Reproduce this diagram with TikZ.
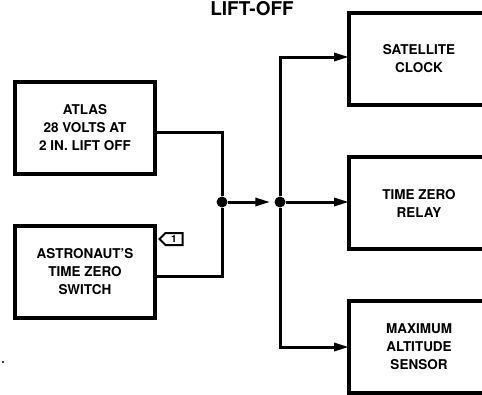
\documentclass[tikz,border=0pt]{standalone}
\usepackage{fontspec}
\setmainfont{TeX Gyre Heros}
\usetikzlibrary{arrows.meta, positioning, shapes.symbols}

\begin{document}
\begin{tikzpicture}[x=1pt, y=-1pt,
        node distance=52pt,
        box/.style={draw, line width=4pt, minimum width=140pt,
                    minimum height=92pt, inner sep=0pt, outer sep=0pt,
                    align=center,
                    font=\fontsize{13.5}{18}\selectfont\bfseries},
        wire/.style={line width=3pt},
        feed/.style={wire, -{Triangle[length=15pt, width=8pt]}},
        junction/.style={circle, fill, inner sep=0pt, minimum size=11pt},
        flagmark/.style={draw, line width=2pt, signal, signal to=west,
                         minimum width=23pt, minimum height=12pt, inner sep=1pt,
                         font=\fontsize{10}{10}\selectfont\bfseries},
    ]
        \useasboundingbox (0,0) rectangle (482,394);

        \node[font=\fontsize{19}{19}\selectfont\bfseries] (title) at (252,8.5) {LIFT-OFF};

        % sources
        \node[box] (atlas) at (85,128) {ATLAS\\28 VOLTS AT\\2 IN.\ LIFT OFF};
        \node[box, below=of atlas] (switch) {ASTRONAUT'S\\TIME ZERO\\SWITCH};
        \node[flagmark] (flag) at (174,239) {1};

        % loads
        \node[box] (clock) at (419,59) {SATELLITE\\CLOCK};
        \node[box, below=of clock] (relay) {TIME ZERO\\RELAY};
        \node[box, below=of relay] (sensor) {MAXIMUM\\ALTITUDE\\SENSOR};

        \node[junction] (j1) at (222,202) {};
        \node[junction] (j2) at (280,202) {};

        \draw[wire] ([yshift=-4pt]atlas.east) -| (j1);
        \draw[wire] ([yshift=-4pt]switch.east) -| (j1);
        \draw[feed, shorten >=4pt] (j1) -- (j2);
        \draw[feed] (j2) |- ([yshift=2pt]clock.west);
        \draw[feed] (j2) -- (relay.west |- j2);
        \draw[feed] (j2) |- (sensor.west);

        \fill (3,362) circle (1.2pt);
    \end{tikzpicture}
\end{document}
